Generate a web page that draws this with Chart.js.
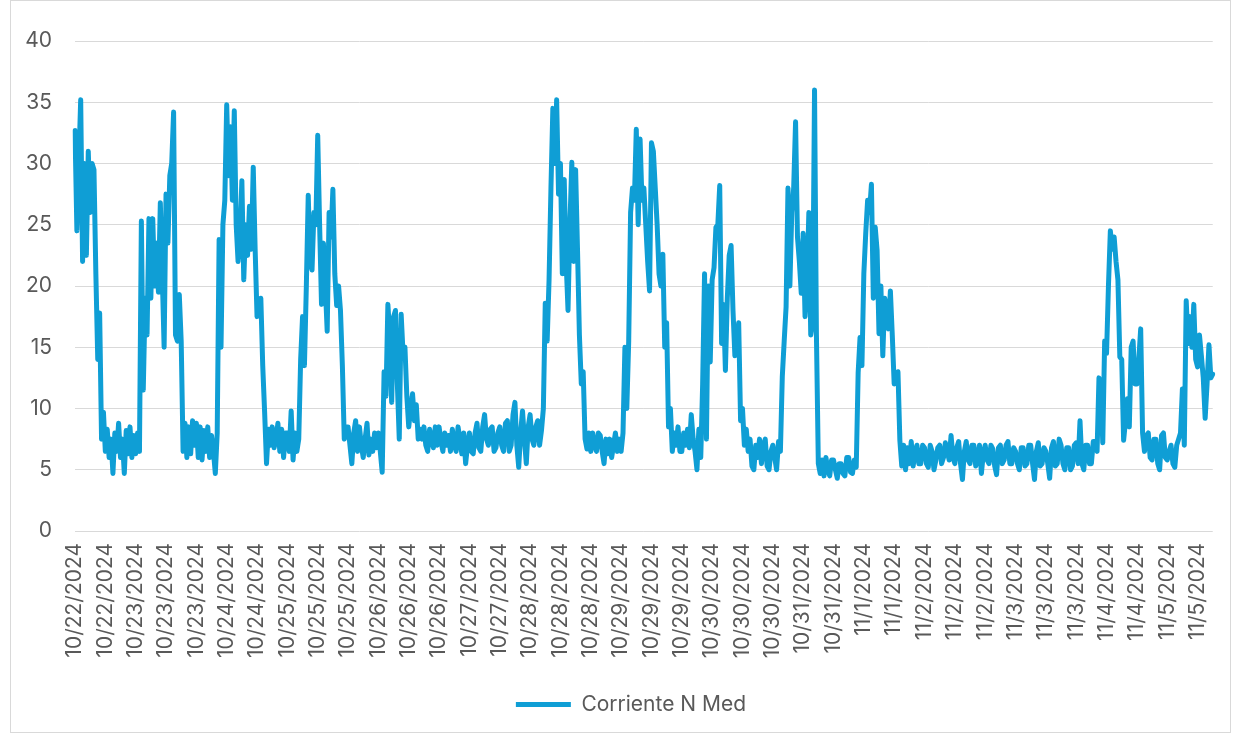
<!DOCTYPE html>
<html>
<head>
<meta charset="utf-8">
<script src="https://cdn.jsdelivr.net/npm/chart.js@4.4.1/dist/chart.umd.min.js"></script>
<style>
  html, body { margin: 0; padding: 0; background: #ffffff; }
  #wrap { position: relative; width: 1235px; height: 736px; overflow: hidden; }
  #frame { position: absolute; left: 10px; top: 0px; width: 1221px; height: 733px; border: 1px solid #d9d9d9; box-sizing: border-box; }
  canvas { position: absolute; left: 0; top: 0; }
</style>
</head>
<body>
<div id="wrap">
  <div id="frame"></div>
  <canvas id="c" width="1235" height="736"></canvas>
</div>
<script>
const seriesName = 'Corriente N Med';

const tickLabels = [
  '10/22/2024','10/22/2024','10/23/2024','10/23/2024','10/23/2024','10/24/2024','10/24/2024',
  '10/25/2024','10/25/2024','10/25/2024','10/26/2024','10/26/2024','10/26/2024','10/27/2024',
  '10/27/2024','10/28/2024','10/28/2024','10/28/2024','10/29/2024','10/29/2024','10/29/2024',
  '10/30/2024','10/30/2024','10/30/2024','10/31/2024','10/31/2024','11/1/2024','11/1/2024',
  '11/2/2024','11/2/2024','11/2/2024','11/3/2024','11/3/2024','11/3/2024','11/4/2024',
  '11/4/2024','11/5/2024','11/5/2024'
];

const pointsPerLabel = 16;

const corrienteNMed = [
  32.7, 24.5, 30, 35.2, 22, 30, 22.5, 31, 26, 30, 29.5, 21, 14, 17.8, 7.5, 9.7,
  6.5, 8.3, 6, 7.5, 4.7, 8, 6.5, 8.8, 6, 7.5, 4.7, 8.2, 6.3, 8.5, 6, 7.8,
  6.3, 8, 6.5, 25.3, 11.5, 19, 16, 25.5, 19, 25.5, 20, 23.5, 19.5, 26.8, 21, 15,
  27.5, 23.5, 29, 30, 34.2, 16, 15.5, 19.3, 15.5, 6.5, 8.8, 6, 8.5, 6.3, 9, 7,
  8.8, 6, 8.5, 5.8, 8.2, 6.5, 8.5, 6, 7.8, 6.5, 4.7, 8, 23.8, 15, 25, 27,
  34.8, 29, 33, 27, 34.3, 25, 22, 24, 28.6, 20.5, 25, 22.5, 26.5, 23, 29.7, 23,
  17.5, 18, 19, 13.5, 9.7, 5.5, 8.3, 7, 8.5, 6.8, 7.5, 8.8, 6.5, 8.3, 6, 8,
  8, 6.5, 9.8, 5.8, 8, 6.5, 7.5, 14, 17.5, 13.5, 20, 27.4, 22, 21.3, 26, 25,
  32.3, 25, 18.5, 23.5, 20, 16.3, 26, 24, 27.9, 21, 18.4, 20, 18, 13.5, 7.5, 8.5,
  8.5, 7, 5.5, 8, 9, 6.5, 8.5, 7, 6, 7.5, 8.8, 6.2, 7.5, 6.5, 8, 6.8,
  8, 6.5, 4.8, 13, 11, 18.5, 16, 10.5, 17.5, 18, 12, 7.5, 17.7, 14.5, 15, 11,
  8.5, 10, 11.2, 9, 10.3, 7.5, 8.3, 7.5, 8.5, 7, 6.5, 8.3, 7.5, 6.8, 8.5, 7,
  8.5, 7.3, 6.5, 8, 7, 7.8, 6.5, 8.3, 7, 6.5, 8.5, 7.5, 6.3, 8, 5.5, 7,
  8, 6.5, 6.3, 8, 8.8, 6.8, 6.5, 8.5, 9.5, 7.5, 7, 8.3, 8.5, 6.5, 6.8, 8,
  8.5, 7, 6.5, 8.8, 9, 6.5, 7, 9.5, 10.5, 7, 5.2, 8, 9.8, 7.5, 5.5, 8.5,
  9.5, 7.5, 7, 8.5, 9, 7, 8.2, 10, 18.6, 15.5, 20.5, 28, 34.5, 30, 35.2, 27.5,
  30, 21, 28.7, 22, 18, 25, 30.1, 22, 29.5, 23, 16, 12, 13, 7.5, 6.7, 8,
  6.5, 8, 7, 6.5, 8, 7.8, 6.5, 5.5, 7.5, 6.3, 7.5, 6, 7, 8, 6.5, 7.5,
  6.5, 8, 15, 10, 15.5, 26, 28, 27, 32.8, 25, 32, 27, 28, 25, 22, 19.6,
  31.7, 31, 28, 25, 21, 20, 22.6, 15, 17, 8.5, 10, 6.5, 8, 7, 8.5, 6.5,
  6.5, 8, 7, 8.3, 6.8, 9.5, 7.5, 6.5, 5, 8.3, 6, 12, 21, 7.5, 20, 13.8,
  20.5, 21.5, 24.8, 25, 28.2, 15.3, 18.5, 13.1, 19, 22.5, 23.3, 18, 14.3, 15, 17, 9,
  10, 7, 8.3, 6.5, 7.5, 5.3, 5, 7, 6, 7.5, 5.5, 7, 7.5, 5.3, 5, 6.5,
  7, 6, 5, 7.3, 6.5, 12.6, 15.5, 18.3, 28, 20, 26, 28, 33.4, 24, 22, 19.4,
  24.3, 17.5, 20, 26, 16, 17, 36, 16, 5.5, 4.7, 5.8, 4.5, 6, 5, 4.5, 5.8,
  5.8, 5, 4.3, 5.5, 5.5, 4.7, 4.5, 6, 6, 4.8, 4.7, 5.8, 5.2, 12.9, 15.8, 13.5,
  21, 24.3, 27, 26, 28.3, 19, 24.8, 22.9, 16.1, 20, 14.3, 19, 18, 16.5, 19.6, 16,
  12, 12.5, 13, 7.4, 5.3, 7, 5, 6.8, 5.5, 7.3, 5.3, 6.5, 7, 5.5, 5.5, 7,
  6.8, 5.5, 5.2, 7, 6.5, 5, 5.8, 6.8, 7, 5.5, 6, 7.2, 6.5, 5.8, 7.8, 6,
  5.5, 6.8, 7.3, 5.5, 4.2, 6.5, 7.3, 5.8, 5.5, 7, 7, 5.3, 6, 7, 4.7, 6.3,
  7, 5.8, 5.5, 7, 6.7, 5.3, 4.6, 6.8, 7, 5.5, 5.8, 7, 7.3, 5.5, 5.5, 6.8,
  6.5, 5.5, 5, 6.8, 6.8, 5.3, 5.5, 7, 7, 5.5, 4.2, 6.5, 7.2, 5.3, 5.5, 6.8,
  6.5, 5.5, 4.3, 6.8, 7.3, 5.3, 5.5, 7.5, 7, 5.5, 5, 6.8, 6.8, 5, 5.3, 7,
  7.2, 5.5, 9, 5.5, 5, 7, 7, 5.5, 5.5, 7.3, 7.3, 6.5, 12.5, 12, 7.2, 15.5,
  14.5, 20, 24.5, 23, 24, 22, 20.5, 14.2, 14, 7.4, 9, 10.8, 8.5, 15, 15.5, 12,
  12, 14, 16.5, 8, 6.5, 7.8, 8, 6, 5.8, 7.5, 7.5, 5.5, 5, 7.8, 8, 6,
  5.8, 6.5, 7, 5.5, 5.2, 7, 7.5, 8, 11.6, 7, 18.8, 15.3, 17.5, 15, 18.5, 14,
  13.4, 16, 14.3, 12.5, 9.2, 12, 15.2, 12.5, 12.8
];

const yTicks = [0, 5, 10, 15, 20, 25, 30, 35, 40];

const categories = corrienteNMed.map((_, i) => tickLabels[Math.min(tickLabels.length - 1, Math.floor(i / pointsPerLabel))]);

const FONT = 'Inter';
const TEXT = '#595959';
const BLUE = '#0f9ed5';

const legendShift = {
  id: 'legendShift',
  afterLayout(chart) {
    if (chart.legend) { chart.legend.left = 44; }
  }
};

new Chart(document.getElementById('c'), {
  type: 'line',
  data: {
    labels: categories,
    datasets: [{
      label: seriesName,
      data: corrienteNMed,
      borderColor: BLUE,
      backgroundColor: BLUE,
      borderWidth: 5,
      pointRadius: 0,
      pointHoverRadius: 0,
      tension: 0,
      borderJoinStyle: 'round',
      borderCapStyle: 'round',
      pointStyle: 'line',
      fill: false
    }]
  },
  plugins: [legendShift],
  options: {
    responsive: false,
    animation: false,
    devicePixelRatio: 1,
    layout: { padding: { left: 0, right: 17, top: 41, bottom: 11 } },
    plugins: {
      tooltip: { enabled: false },
      legend: {
        position: 'bottom',
        labels: {
          usePointStyle: true,
          pointStyleWidth: 55,
          boxHeight: 21,
          padding: 10,
          color: TEXT,
          font: { family: FONT, size: 21 }
        }
      }
    },
    scales: {
      x: {
        type: 'category',
        offset: false,
        grid: { display: false, drawTicks: false },
        border: { display: false },
        ticks: {
          autoSkip: false,
          maxRotation: 90,
          minRotation: 90,
          padding: 12,
          color: TEXT,
          font: { family: FONT, size: 21 },
          callback: function (value, index) {
            return index % pointsPerLabel === 0 ? tickLabels[index / pointsPerLabel] : null;
          }
        },
        afterFit: function (scale) { scale.height = 153; }
      },
      y: {
        min: 0,
        max: 40,
        afterBuildTicks: function (scale) { scale.ticks = yTicks.map(v => ({ value: v })); },
        grid: { color: '#d9d9d9', lineWidth: 1, drawTicks: false },
        border: { display: false },
        ticks: {
          padding: 23,
          color: TEXT,
          font: { family: FONT, size: 21 }
        },
        afterFit: function (scale) { scale.width = 75; }
      }
    }
  }
});
</script>
</body>
</html>
